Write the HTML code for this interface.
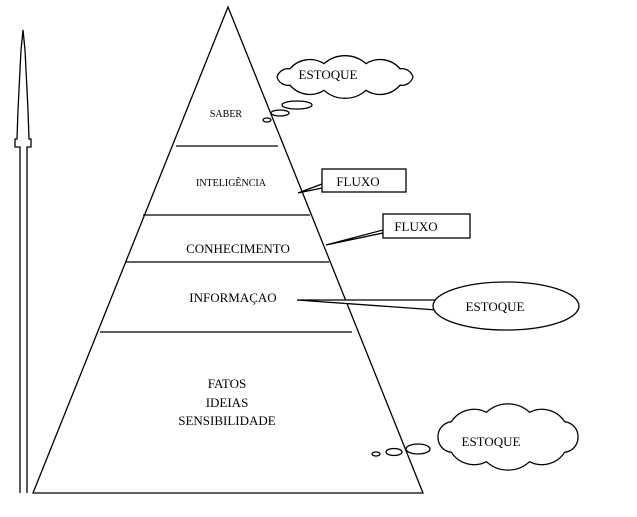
<!DOCTYPE html>
<html><head><meta charset="utf-8"><style>body{margin:0;background:#fff}</style></head><body>
<svg width="637" height="512" viewBox="0 0 637 512" xmlns="http://www.w3.org/2000/svg" font-family="Liberation Serif, serif" fill="none" stroke="#000" stroke-width="1.3">
<path d="M20,493 L20,147 L15,147 L15,139 L17,139 L18,110 L20,70 L21,50 L23,30 L25,50 L26,70 L28,110 L29,139 L31,139 L31,147 L27,147 L27,493"/>
<path d="M228,7 L423,493 L33,493 Z"/>
<line x1="176" y1="146" x2="278" y2="146"/>
<line x1="143" y1="215" x2="310" y2="215"/>
<line x1="125" y1="262" x2="329" y2="262"/>
<line x1="100" y1="332" x2="352" y2="332"/>
<path d="M413,77 A11.5 11.5 0 0 1 400,85.2 A26 26 0 0 1 366,90.3 A31.5 31.5 0 0 1 324,90.3 A26 26 0 0 1 290,85.2 A11.5 11.5 0 0 1 277,77 A11.5 11.5 0 0 1 290,68.8 A26 26 0 0 1 324,63.7 A31.5 31.5 0 0 1 366,63.7 A26 26 0 0 1 400,68.8 A11.5 11.5 0 0 1 413,77 Z" fill="#fff"/>
<ellipse cx="297" cy="105" rx="15" ry="4"/>
<ellipse cx="280" cy="113" rx="9" ry="3"/>
<ellipse cx="267" cy="120" rx="4" ry="2"/>
<path d="M322,184 L298,193 L322,188"/>
<rect x="322" y="169" width="84" height="23" fill="#fff"/>
<path d="M383,230 L326,245 L383,233"/>
<rect x="383" y="214" width="87" height="24" fill="#fff"/>
<path d="M437,300 L297,300 L437,310" fill="#fff"/>
<ellipse cx="506" cy="306" rx="73" ry="24" fill="#fff"/>
<path d="M578,437 A15 15 0 0 1 564.6,452.3 A27 27 0 0 1 529.6,461.7 A32 32 0 0 1 486.4,461.7 A27 27 0 0 1 451.4,452.3 A15 15 0 0 1 438,437 A15 15 0 0 1 451.4,421.7 A27 27 0 0 1 486.4,412.3 A32 32 0 0 1 529.6,412.3 A27 27 0 0 1 564.6,421.7 A15 15 0 0 1 578,437 Z" fill="#fff"/>
<ellipse cx="418" cy="449" rx="12" ry="5"/>
<ellipse cx="394" cy="452" rx="8" ry="3.5"/>
<ellipse cx="376" cy="454" rx="4" ry="2"/>
<g fill="#000" stroke="none" text-anchor="middle">
<text x="226" y="117" font-size="10">SABER</text>
<text x="231" y="186" font-size="10">INTELIGÊNCIA</text>
<text x="238" y="253" font-size="13">CONHECIMENTO</text>
<text x="233" y="302" font-size="13">INFORMAÇAO</text>
<text x="227" y="388" font-size="13">FATOS</text>
<text x="227" y="407" font-size="13">IDEIAS</text>
<text x="227" y="425" font-size="13">SENSIBILIDADE</text>
<text x="328" y="79" font-size="13">ESTOQUE</text>
<text x="358" y="186" font-size="13">FLUXO</text>
<text x="416" y="231" font-size="13">FLUXO</text>
<text x="495" y="311" font-size="13">ESTOQUE</text>
<text x="491" y="446" font-size="13">ESTOQUE</text>
</g>
</svg>
</body></html>
